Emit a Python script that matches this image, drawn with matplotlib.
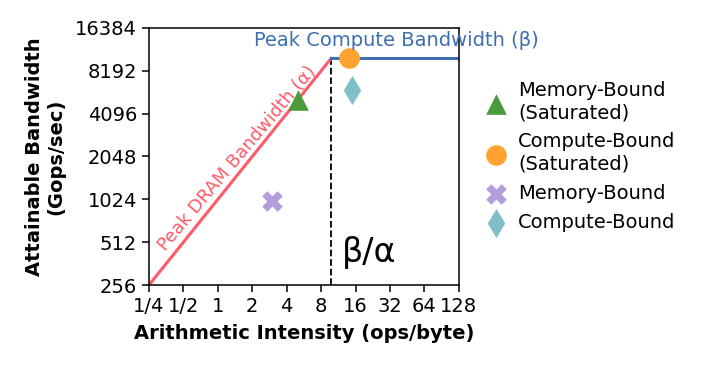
import matplotlib
matplotlib.use("Agg")
import matplotlib.pyplot as plt
import numpy as np

alpha = 1024.0          # Peak DRAM bandwidth slope
beta = 10000.0          # Peak compute bandwidth
ridge = beta / alpha

xticks = [0.25, 0.5, 1, 2, 4, 8, 16, 32, 64, 128]
xticklabels = ["1/4", "1/2", "1", "2", "4", "8", "16", "32", "64", "128"]
yticks = [256, 512, 1024, 2048, 4096, 8192, 16384]

mem_sat = (5.0, 5120.0)
comp_sat = (14.0, 10000.0)
mem = (3.0, 1000.0)
comp = (15.0, 6000.0)

fig = plt.figure(figsize=(7.06, 3.68), dpi=100)
ax = fig.add_axes([0.211, 0.2255, 0.439, 0.6985])
ax.set_xscale("log", base=2)
ax.set_yscale("log", base=2)
ax.set_xlim(0.25, 128)
ax.set_ylim(256, 16384)

red = "#ff5a68"
blue = "#3e6fb0"
xs = np.array([0.25, ridge])
ax.plot(xs, alpha * xs, color=red, lw=2.2, zorder=2)
ax.plot([ridge, 128], [beta, beta], color=blue, lw=2.2, zorder=2)
ax.plot([ridge, ridge], [256, beta], color="black", ls="--", lw=1.3, zorder=1)

ax.scatter(*mem_sat, marker="^", s=220, color="#4a9b3c", zorder=3, lw=0, label="Memory-Bound\n(Saturated)")
ax.scatter(*comp_sat, marker="o", s=220, color="#ffa330", zorder=3, lw=0, label="Compute-Bound\n(Saturated)")
ax.scatter(*mem, marker="X", s=220, color="#b39ddb", zorder=3, lw=0, label="Memory-Bound")
ax.scatter(*comp, marker="d", s=220, color="#7fbfca", zorder=3, lw=0, label="Compute-Bound")

ax.text(0.797, 0.953, "Peak Compute Bandwidth (β)", transform=ax.transAxes, ha="center",
        va="center", color=blue, fontsize=14, clip_on=False)
ax.text(1.49, 2000, "Peak DRAM Bandwidth (α)", rotation=50, rotation_mode="anchor",
        ha="center", va="center", color=red, fontsize=13)
ax.text(12.2, 430, "β/α", fontsize=24, ha="left", va="center")

ax.set_xticks(xticks)
ax.set_xticklabels(xticklabels)
ax.set_yticks(yticks)
ax.set_yticklabels([str(v) for v in yticks])
ax.minorticks_off()
ax.tick_params(labelsize=14, length=5, width=1.1)
for s in ax.spines.values():
    s.set_linewidth(1.1)
ax.set_xlabel("Arithmetic Intensity (ops/byte)", fontsize=14, fontweight="bold", labelpad=6)
ax.set_ylabel("Attainable Bandwidth\n(Gops/sec)", fontsize=14, fontweight="bold", labelpad=7)

ax.legend(loc="center left", bbox_to_anchor=(1.0, 0.5), frameon=False, fontsize=14,
          handletextpad=0.15, labelspacing=0.53)

fig.savefig("out.png", dpi=100)
